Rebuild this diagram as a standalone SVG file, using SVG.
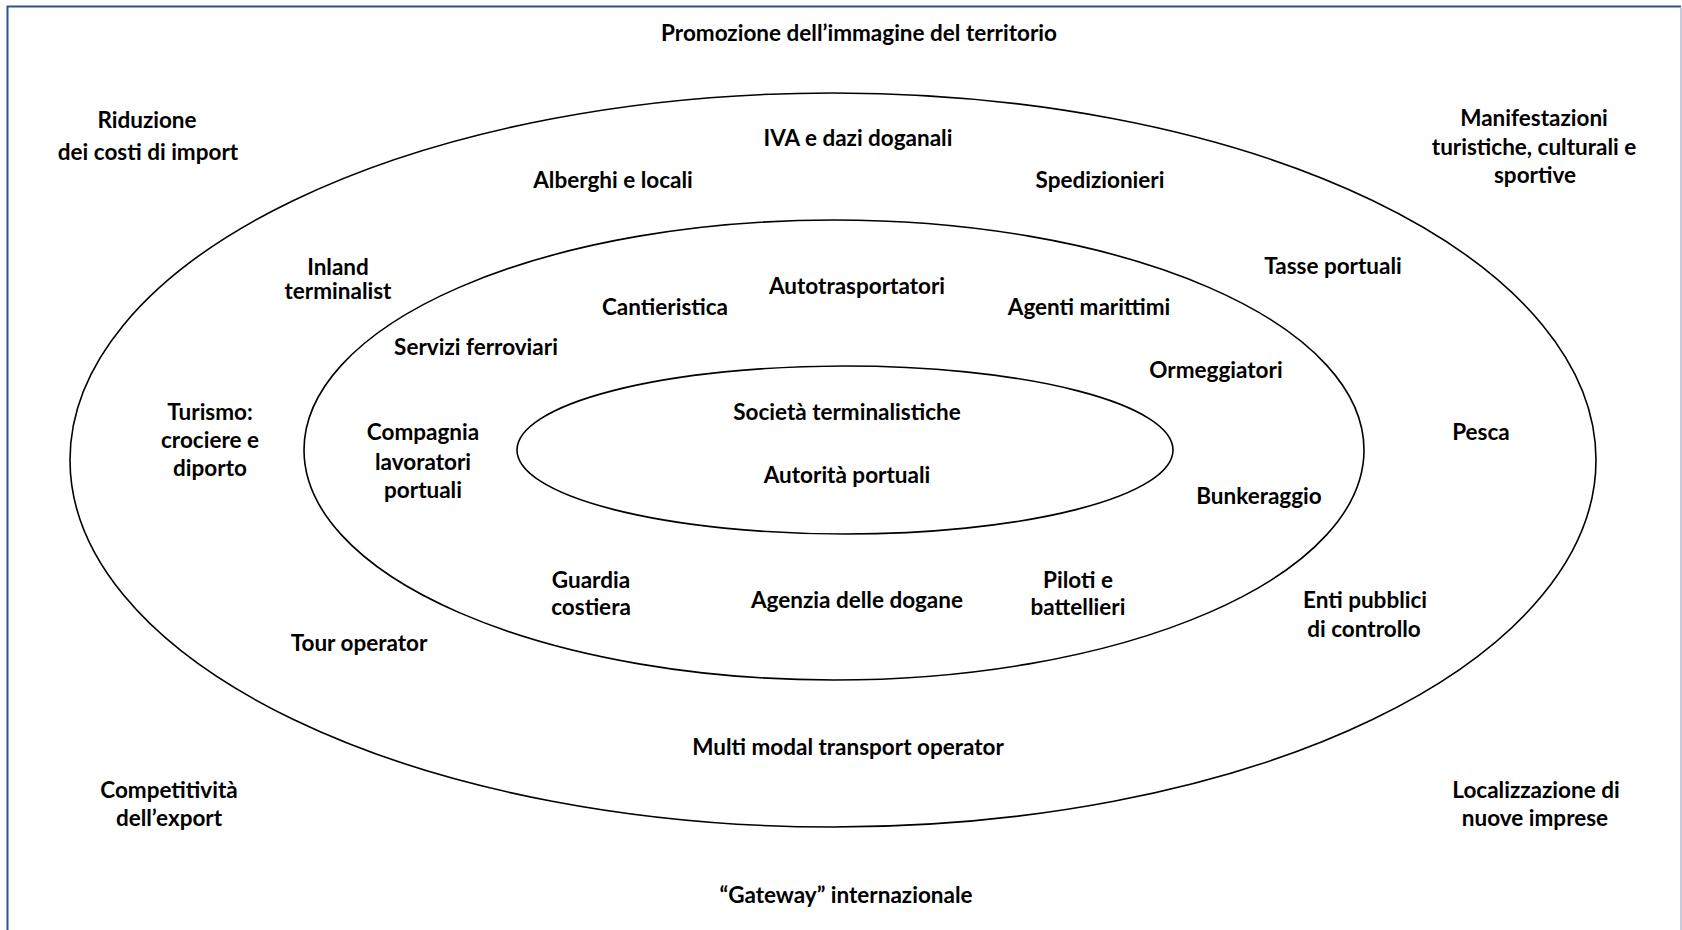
<svg xmlns="http://www.w3.org/2000/svg" width="1682" height="930" viewBox="0 0 1682 930">
<style>
text{font-family:Lato,"Liberation Sans",sans-serif;font-weight:bold;font-size:22.5px;fill:#000;text-anchor:middle}
.ring{fill:none;stroke:#000;stroke-width:1.6}
</style>
<rect x="0" y="0" width="1682" height="930" fill="#fff"/>
<g id="frame">
<path d="M7.5,930 V6.5 H1681" fill="none" stroke="#2F528F" stroke-width="2"/>
<path d="M1681,7 V930" fill="none" stroke="#B4B8CC" stroke-width="1.5"/>
</g>
<g id="rings">
<ellipse id="outer" class="ring" cx="833" cy="460" rx="763" ry="367"/>
<ellipse id="middle" class="ring" cx="834" cy="450" rx="530" ry="230"/>
<ellipse id="inner" class="ring" cx="845" cy="450" rx="328" ry="84"/>
</g>
<g id="labels">
<text x="859" y="41">Promozione dell’immagine del territorio</text>
<text x="147" y="128">Riduzione</text>
<text x="148" y="160">dei costi di import</text>
<text x="1534" y="126">Manifestazioni</text>
<text x="1534" y="155">turistiche, culturali e</text>
<text x="1535" y="183">sportive</text>
<text x="858" y="146">IVA e dazi doganali</text>
<text x="613" y="188">Alberghi e locali</text>
<text x="1100" y="188">Spedizionieri</text>
<text x="338" y="275">Inland</text>
<text x="338" y="299">terminalist</text>
<text x="1333" y="274">Tasse portuali</text>
<text x="857" y="294">Autotrasportatori</text>
<text x="665" y="315">Cantieristica</text>
<text x="1089" y="315">Agenti marittimi</text>
<text x="476" y="355">Servizi ferroviari</text>
<text x="1216" y="378">Ormeggiatori</text>
<text x="847" y="420">Società terminalistiche</text>
<text x="847" y="483">Autorità portuali</text>
<text x="210" y="420">Turismo:</text>
<text x="210" y="448">crociere e</text>
<text x="210" y="476">diporto</text>
<text x="423" y="440">Compagnia</text>
<text x="423" y="470">lavoratori</text>
<text x="423" y="498">portuali</text>
<text x="1481" y="440">Pesca</text>
<text x="1259" y="504">Bunkeraggio</text>
<text x="591" y="588">Guardia</text>
<text x="591" y="615">costiera</text>
<text x="857" y="608">Agenzia delle dogane</text>
<text x="1078" y="588">Piloti e</text>
<text x="1078" y="615">battellieri</text>
<text x="1365" y="608">Enti pubblici</text>
<text x="1364" y="637">di controllo</text>
<text x="359" y="651">Tour operator</text>
<text x="848" y="755">Multi modal transport operator</text>
<text x="169" y="798">Competitività</text>
<text x="169" y="826">dell’export</text>
<text x="1536" y="798">Localizzazione di</text>
<text x="1535" y="826">nuove imprese</text>
<text x="846" y="903">“Gateway” internazionale</text>
</g>
</svg>
